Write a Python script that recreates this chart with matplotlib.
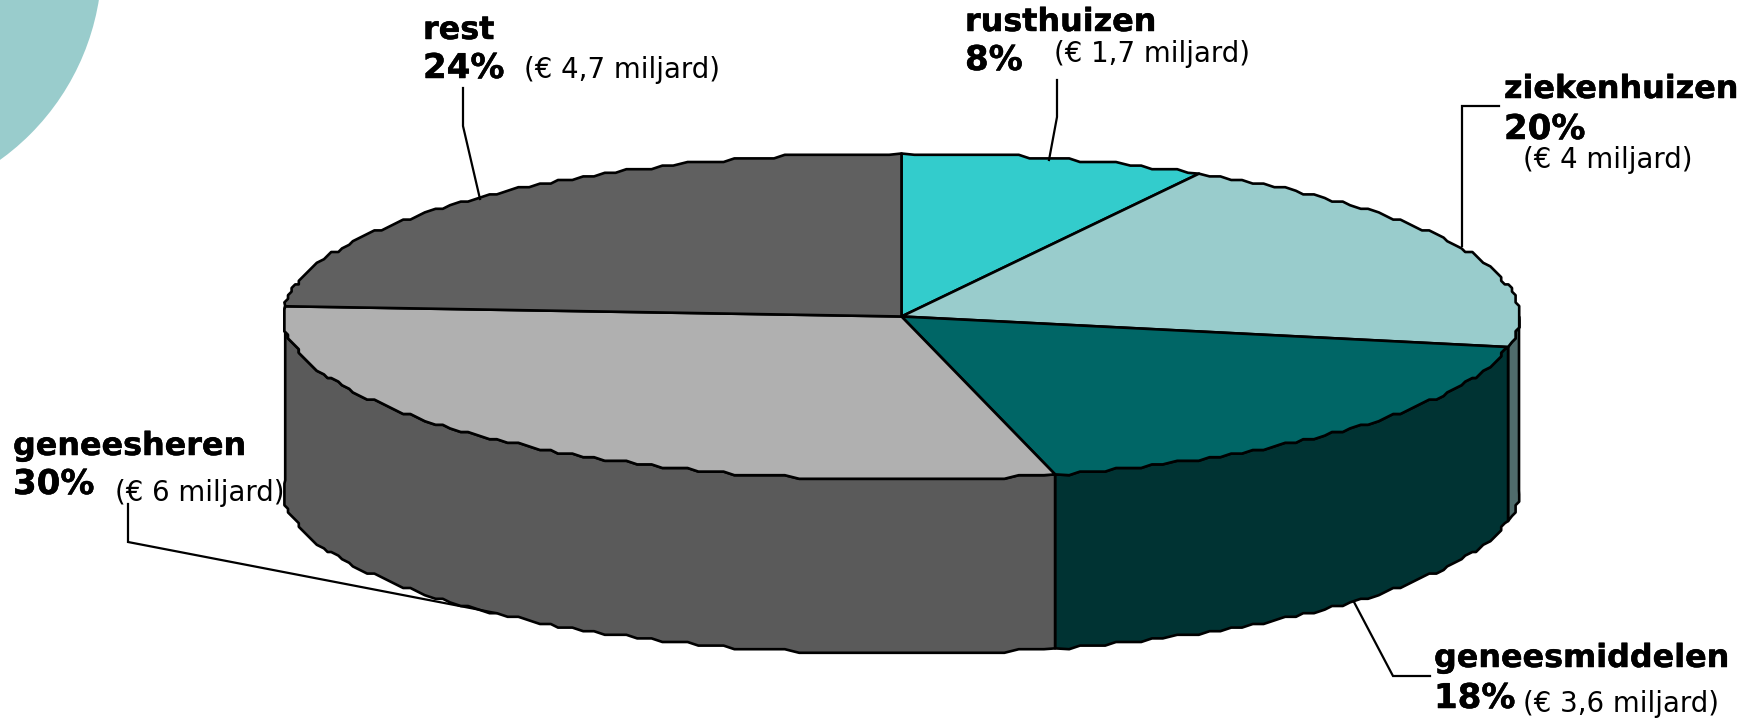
import numpy as np
import matplotlib
matplotlib.use("Agg")
import matplotlib.pyplot as plt
import matplotlib.patheffects as pe
from matplotlib.patches import Circle, Polygon

# shares clockwise from 12 o'clock
names = ["rusthuizen", "ziekenhuizen", "geneesmiddelen", "geneesheren", "rest"]
shares = [8, 20, 18, 30, 24]
amounts = ["(€ 1,7 miljard)", "(€ 4 miljard)", "(€ 3,6 miljard)", "(€ 6 miljard)", "(€ 4,7 miljard)"]
top_colors = ["#33cccc", "#99cccc", "#006666", "#b0b0b0", "#606060"]
side_colors = ["#33cccc", "#4f6b6b", "#003333", "#5a5a5a", "#606060"]

CX, CY, RX, RY, DEPTH = 901.5, 316.5, 617.5, 163, 174
GRID = 3.6
STEP = 1.2


def rim(start, end, drop=0):
    # same angle steps for every wedge, snapped to a grid for the stepped edge of the original
    inner = np.arange(np.ceil(start / STEP + 0.01), np.floor(end / STEP - 0.01) + 1) * STEP
    t = np.radians(inner)
    x = np.round((CX + RX * np.sin(t)) / GRID) * GRID
    y = np.round((CY - RY * np.cos(t)) / GRID) * GRID
    t0, t1 = np.radians(start), np.radians(end)
    x = np.r_[CX + RX * np.sin(t0), x, CX + RX * np.sin(t1)]
    y = np.r_[CY - RY * np.cos(t0), y, CY - RY * np.cos(t1)]
    return np.column_stack([x, y + drop])


fig = plt.figure(figsize=(17.54, 7.2), dpi=100)
ax = fig.add_axes([0, 0, 1, 1])
ax.set_xlim(0, 1754)
ax.set_ylim(720, 0)
ax.axis("off")

# corner decoration
ax.add_patch(Circle((-143, -39), 245, fc="#99cccc", ec="none"))

stops = np.cumsum([0] + shares) * 3.6

for i in range(len(shares)):
    a = max(stops[i], 90)
    b = stops[i + 1]
    if a < 270 and b > a:
        upper = rim(a, b)
        lower = rim(a, b, DEPTH)[::-1]
        ax.add_patch(Polygon(np.vstack([upper, lower]), closed=True,
                             fc=side_colors[i], ec="black", lw=1.9, joinstyle="round"))

for i in range(len(shares)):
    pts = np.vstack([[CX, CY], rim(stops[i], stops[i + 1])])
    ax.add_patch(Polygon(pts, closed=True, fc=top_colors[i], ec="black", lw=1.9, joinstyle="round"))

# leaders
leaders = [
    ([1057, 1057, 1049], [80, 117, 160]),
    ([1499, 1461.5, 1461.5], [106, 106, 246]),
    ([1354, 1393, 1430], [602, 676, 676]),
    ([128, 128, 496], [504, 542, 613]),
    ([463, 463, 480], [88, 126, 199]),
]
for lx, ly in leaders:
    ax.plot(lx, ly, color="black", lw=1.6, solid_joinstyle="miter")

# label positions: name, percent, amount (x, baseline y)
label_pos = [
    ((965, 31), (965, 70), (1054, 62)),
    ((1504, 98), (1504, 139), (1523, 168)),
    ((1434, 667), (1434, 708), (1523, 712)),
    ((13, 455), (13, 494), (115, 501)),
    ((423, 39), (423, 78), (524, 78)),
]
BOLD = 22.9
NORMAL = 19.9
heavy = [pe.withStroke(linewidth=0.35, foreground="black")]
for i, (p_name, p_pct, p_amt) in enumerate(label_pos):
    ax.text(*p_name, names[i], fontsize=BOLD, fontweight="bold", va="baseline", ha="left", path_effects=heavy)
    ax.text(*p_pct, f"{shares[i]}%", fontsize=BOLD + 1.6, fontweight="bold", va="baseline", ha="left", path_effects=heavy)
    ax.text(*p_amt, amounts[i], fontsize=NORMAL, va="baseline", ha="left")

fig.savefig("out.png", dpi=100)
